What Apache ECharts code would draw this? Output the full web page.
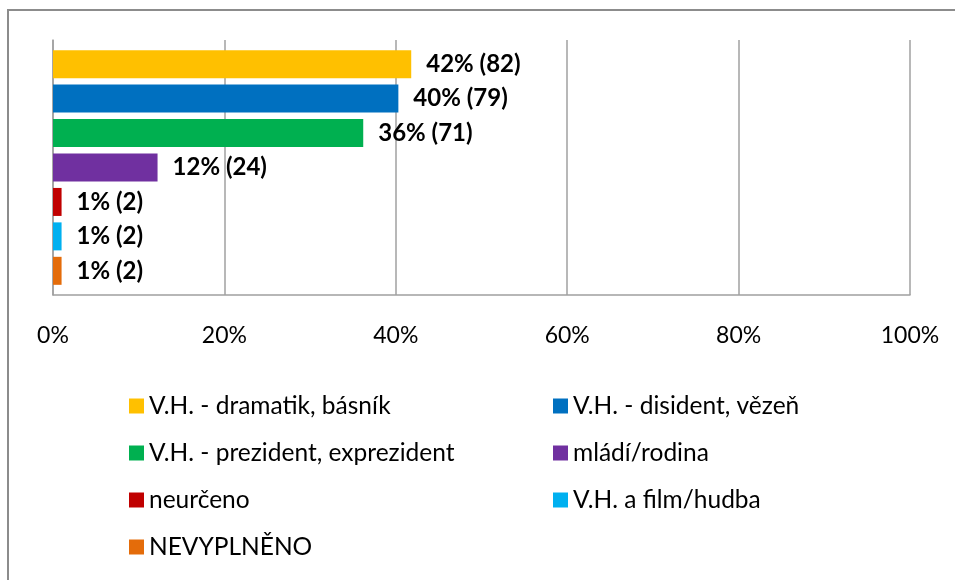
<!DOCTYPE html>
<html>
<head>
<meta charset="utf-8">
<script src="https://cdn.jsdelivr.net/npm/echarts@6/dist/echarts.min.js"></script>
<style>
  html, body { margin: 0; padding: 0; background: #fff; }
  #chart { width: 955px; height: 580px; }
</style>
</head>
<body>
<div id="chart"></div>
<script>
// kategorie (jedna série na položku legendy)
const names = [
  'V.H. - dramatik, básník',
  'V.H. - disident, vězeň',
  'V.H. - prezident, exprezident',
  'mládí/rodina',
  'neurčeno',
  'V.H. a film/hudba',
  'NEVYPLNĚNO'
]
// podíl v % (délka sloupce)
const shares = [41.8, 40.3, 36.2, 12.2, 1.0, 1.0, 1.0]
// počty odpovědí (v závorce)
const counts = [82, 79, 71, 24, 2, 2, 2]
const colors = ['#FFC000', '#0070C0', '#00B050', '#7030A0', '#C00000', '#00B0F0', '#E46C0A']
const xTicks = [0, 20, 40, 60, 80, 100]

const FONT = 'Lato'

const chart = echarts.init(document.getElementById('chart'))

const series = names.map((name, i) => ({
  name: name,
  type: 'bar',
  data: [shares[i]],
  barWidth: 28,
  barGap: '23%',
  itemStyle: { color: colors[i] },
  label: {
    show: true,
    position: 'right',
    distance: 15,
    color: '#000',
    fontFamily: FONT,
    fontWeight: 'bold',
    fontSize: 24,
    formatter: () => Math.round(shares[i]) + '% (' + counts[i] + ')'
  }
}))

const option = {
  animation: false,
  backgroundColor: '#fff',
  textStyle: { fontFamily: FONT },
  graphic: [{
    type: 'rect',
    shape: { x: 8, y: 10, width: 1000, height: 600 },
    style: { fill: 'none', stroke: '#8c8c8c', lineWidth: 2 },
    silent: true
  }],
  grid: { left: 53, right: 45, top: 40, bottom: 285 },
  xAxis: {
    type: 'value',
    min: xTicks[0],
    max: xTicks[xTicks.length - 1],
    interval: 20,
    axisLine: { show: true, lineStyle: { color: '#a0a0a0', width: 1.5 } },
    axisTick: { show: false },
    splitLine: { show: true, lineStyle: { color: '#a0a0a0', width: 1.5 } },
    axisLabel: {
      margin: 29,
      color: '#000',
      fontFamily: FONT,
      fontSize: 23,
      formatter: v => v + '%'
    }
  },
  yAxis: {
    type: 'category',
    data: [''],
    inverse: true,
    axisLine: { show: true, lineStyle: { color: '#a0a0a0', width: 1.5 } },
    axisTick: { show: false },
    axisLabel: { show: false }
  },
  legend: {
    left: 124,
    top: 386,
    width: 850,
    itemWidth: 15,
    itemHeight: 15,
    itemGap: 17,
    icon: 'rect',
    textStyle: {
      color: '#000',
      fontFamily: FONT,
      fontSize: 24.5,
      lineHeight: 30,
      width: 387,
      overflow: 'truncate'
    },
    data: names
  },
  series: series
}

option && chart.setOption(option, true)
</script>
</body>
</html>
